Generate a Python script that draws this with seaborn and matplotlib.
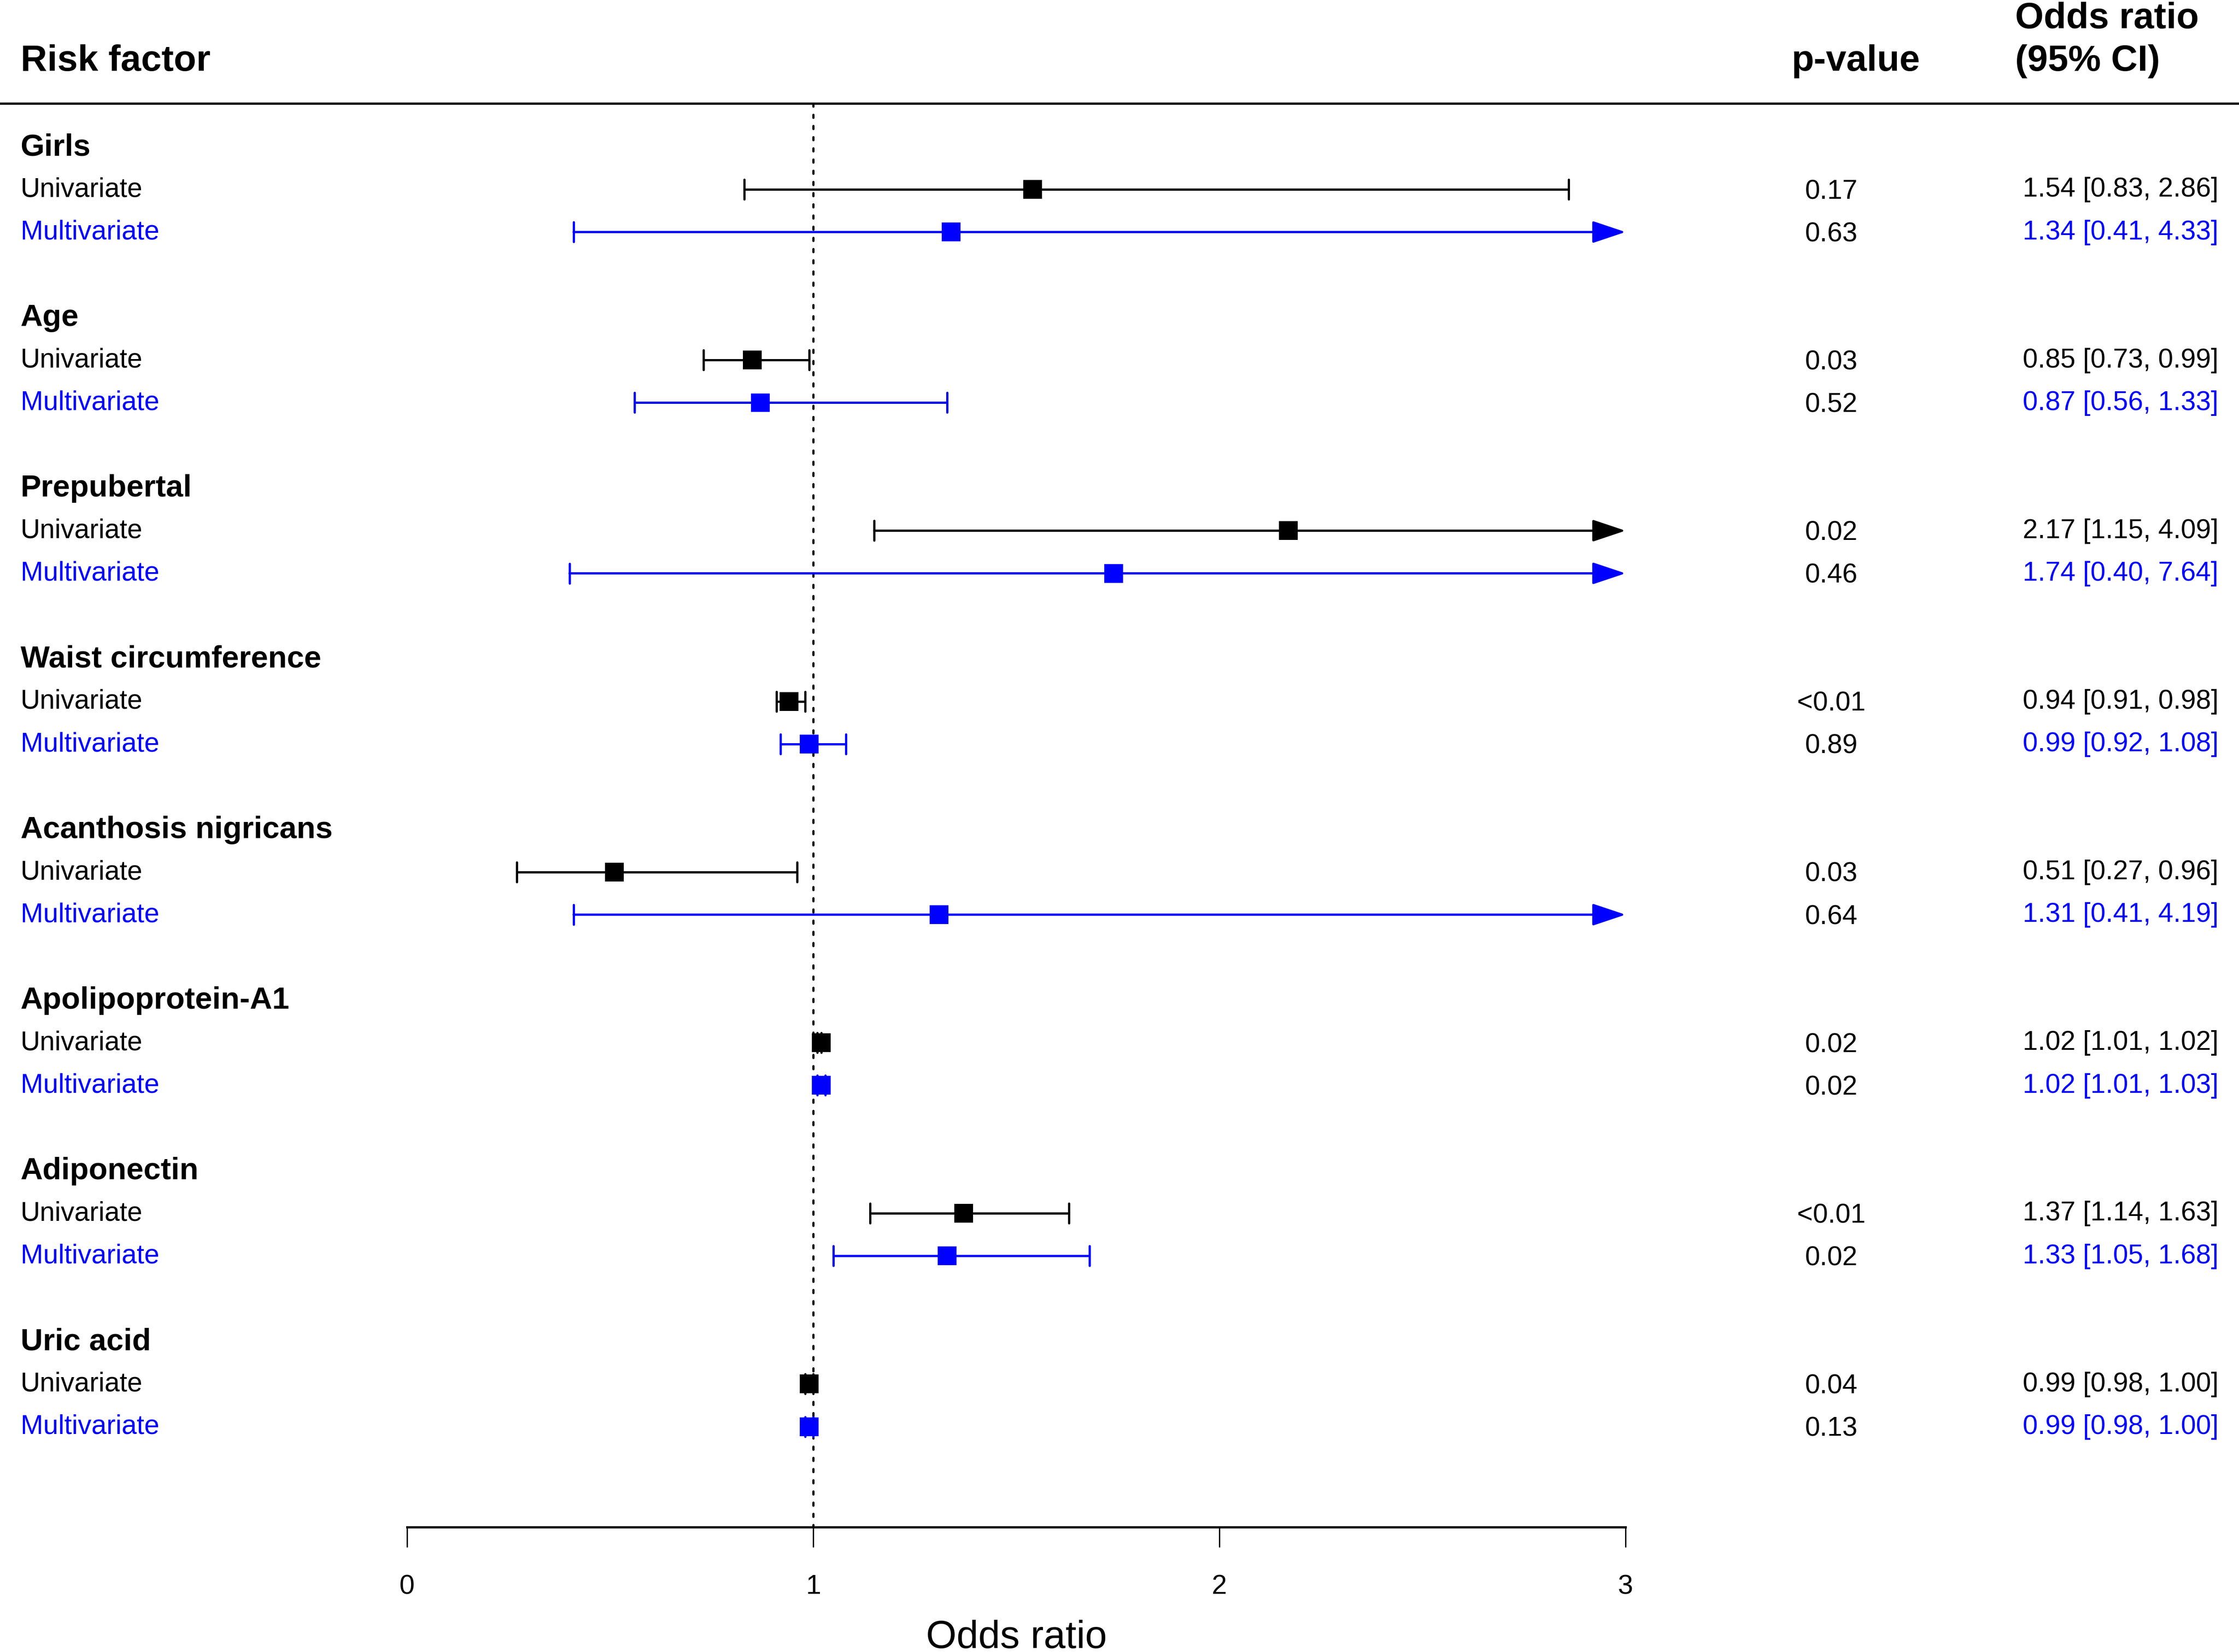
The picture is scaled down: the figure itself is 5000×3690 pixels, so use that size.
import matplotlib
matplotlib.use('Agg')
import matplotlib.pyplot as plt
from matplotlib.markers import MarkerStyle
import pandas as pd
import seaborn as sns

# Values
factors = ['Girls', 'Age', 'Prepubertal', 'Waist circumference',
           'Acanthosis nigricans', 'Apolipoprotein-A1', 'Adiponectin', 'Uric acid']
uni_or = [1.54, 0.85, 2.17, 0.94, 0.51, 1.02, 1.37, 0.99]
uni_lo = [0.83, 0.73, 1.15, 0.91, 0.27, 1.01, 1.14, 0.98]
uni_hi = [2.86, 0.99, 4.09, 0.98, 0.96, 1.02, 1.63, 1.00]
uni_p = ['0.17', '0.03', '0.02', '<0.01', '0.03', '0.02', '<0.01', '0.04']
multi_or = [1.34, 0.87, 1.74, 0.99, 1.31, 1.02, 1.33, 0.99]
multi_lo = [0.41, 0.56, 0.40, 0.92, 0.41, 1.01, 1.05, 0.98]
multi_hi = [4.33, 1.33, 7.64, 1.08, 4.19, 1.03, 1.68, 1.00]
multi_p = ['0.63', '0.52', '0.46', '0.89', '0.64', '0.02', '0.02', '0.13']
x_ticks = [0, 1, 2, 3]

colors = {'Univariate': 'black', 'Multivariate': '#0000ff'}

# long table: one row per estimate, 4 rows per factor (header, uni, multi, gap)
rows = []
for k, name in enumerate(factors):
    rows.append(dict(factor=name, model='Univariate', y=4 * k + 1,
                     OR=uni_or[k], lo=uni_lo[k], hi=uni_hi[k], p=uni_p[k]))
    rows.append(dict(factor=name, model='Multivariate', y=4 * k + 2,
                     OR=multi_or[k], lo=multi_lo[k], hi=multi_hi[k], p=multi_p[k]))
df = pd.DataFrame(rows)
df['ym'] = df['y'] + 0.07  # squares sit a hair below the text centre

sns.set_style('white')
plt.rcParams['font.family'] = ['Liberation Sans', 'DejaVu Sans']
plt.rcParams['text.color'] = 'black'
plt.rcParams['axes.labelcolor'] = 'black'

fig = plt.figure(figsize=(25, 18.455), dpi=200)
ax = fig.add_axes([0, 0, 1, 1])

XMAX = x_ticks[-1]
AXIS_Y = 32.42
HEAD_Y = -0.944
LW = 1.8

# reference line at OR = 1
ref = ax.vlines(1, HEAD_Y, AXIS_Y, color='black', lw=LW,
                linestyles=(0, (1.33, 3.67)), zorder=1)
ref.set_capstyle('round')

cap_marker = MarkerStyle('|', capstyle='round')

# confidence intervals, arrows where they run past the axis
for _, r in df.iterrows():
    c = colors[r.model]
    if r.hi > XMAX:
        ax.annotate('', xy=(XMAX, r.ym), xytext=(r.lo, r.ym),
                    arrowprops=dict(arrowstyle='-|>,head_length=2.3,head_width=0.77',
                                    mutation_scale=10, color=c, lw=LW,
                                    joinstyle='round', capstyle='round',
                                    shrinkA=0, shrinkB=0))
        caps = [r.lo]
    else:
        ax.hlines(r.ym, r.lo, r.hi, color=c, lw=LW, zorder=2)
        caps = [r.lo, r.hi]
    ax.plot(caps, [r.ym] * len(caps), ls='none', marker=cap_marker, ms=15.5,
            mew=LW, color=c, zorder=2)

sns.scatterplot(data=df, x='OR', y='ym', hue='model', palette=colors, marker='s',
                s=228, linewidth=0, legend=False, ax=ax, zorder=5)

# text columns
LX = -0.952
PX = 3.507
CIX = 4.460
ax.text(LX, -1.721, 'Risk factor', fontsize=29.5, weight='bold', va='baseline')
ax.text(PX + 0.06, -1.721, 'p-value', fontsize=29.5, weight='bold', va='baseline', ha='center')
ax.text(3.959, -2.718, 'Odds ratio', fontsize=29.5, weight='bold', va='baseline')
ax.text(3.959, -1.721, '(95% CI)', fontsize=29.5, weight='bold', va='baseline')

for k, name in enumerate(factors):
    ax.text(LX, 4 * k, name, fontsize=24.8, weight='bold', va='center_baseline')

for _, r in df.iterrows():
    c = colors[r.model]
    ax.text(LX, r.y, r.model, fontsize=21.8, color=c, va='center_baseline')
    ax.text(PX, r.y + 0.05, r.p, fontsize=21.8, color='black', va='center_baseline', ha='center')
    ax.text(CIX, r.y, f'{r.OR:.2f} [{r.lo:.2f}, {r.hi:.2f}]', fontsize=21.8, color=c,
            va='center_baseline', ha='right')

ax.axhline(HEAD_Y, color='black', lw=LW)

# axes: only a bounded bottom spine with ticks
ax.set_xlim(-1.0022, 4.5105)
ax.set_ylim(35.352, -3.379)
for side in ['top', 'left', 'right']:
    ax.spines[side].set_visible(False)
ax.spines['bottom'].set_position(('data', AXIS_Y))
ax.spines['bottom'].set_bounds(0, XMAX)
ax.spines['bottom'].set_linewidth(LW)
ax.spines['bottom'].set_color('black')
ax.set_xticks(x_ticks)
ax.set_xticklabels([str(t) for t in x_ticks])
ax.set_yticks([])
ax.tick_params(axis='x', direction='out', length=16.2, width=LW * 0.6, pad=21.5,
               labelsize=22, bottom=True, colors='black')
ax.set_ylabel('')
ax.set_xlabel('Odds ratio', fontsize=31.5)
ax.xaxis.set_label_coords((1.5 + 1.0022) / 5.5127, 1 - 3650 / 3691)
ax.xaxis.label.set_verticalalignment('center_baseline')
ax.set_facecolor('white')

fig.savefig('out.png', dpi=200, facecolor='white')
